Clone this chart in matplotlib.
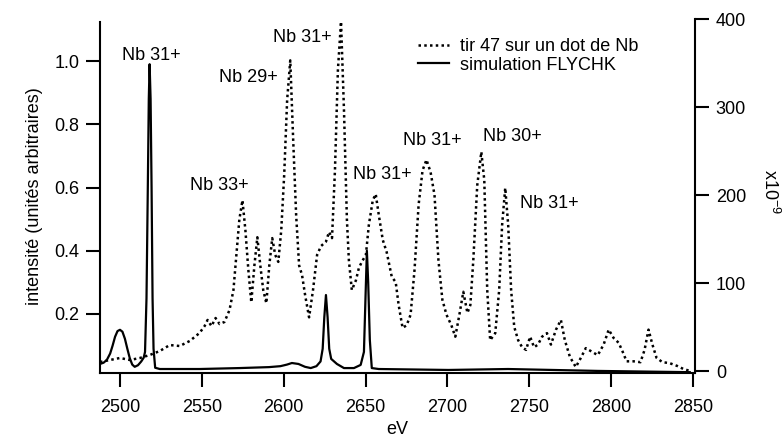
import matplotlib
matplotlib.use("Agg")
import matplotlib.pyplot as plt
from matplotlib.lines import Line2D

plt.rcParams['font.family'] = ['Liberation Sans', 'DejaVu Sans']
plt.rcParams['mathtext.default'] = 'regular'

# Experimental spectrum (right axis, x10^-9)
exp_ev = [2487.8, 2493.9, 2500.0, 2506.1, 2512.2, 2518.2, 2524.3, 2530.4, 2536.5, 2542.6,
          2548.6, 2551.7, 2553.5, 2555.9, 2558.4, 2560.8, 2563.8, 2566.9, 2569.3, 2571.1,
          2572.9, 2574.8, 2576.6, 2578.4, 2580.2, 2582.1, 2583.9, 2585.7, 2587.5, 2589.4,
          2591.2, 2593.0, 2594.8, 2596.7, 2598.5, 2600.3, 2602.1, 2604.0, 2605.8, 2607.6,
          2609.4, 2611.2, 2613.1, 2615.5, 2617.9, 2620.4, 2622.8, 2625.8, 2627.7, 2629.5,
          2631.3, 2633.1, 2635.0, 2636.8, 2638.6, 2639.8, 2641.6, 2644.1, 2645.9, 2647.7,
          2650.2, 2652.0, 2654.4, 2656.2, 2658.1, 2660.5, 2662.9, 2666.0, 2668.4, 2670.2,
          2672.6, 2675.1, 2677.5, 2679.9, 2682.4, 2684.8, 2687.2, 2689.7, 2692.1, 2694.5,
          2696.9, 2699.4, 2702.4, 2704.8, 2707.3, 2709.7, 2712.2, 2714.0, 2715.8, 2718.2,
          2720.7, 2722.5, 2724.3, 2726.1, 2729.2, 2731.6, 2733.4, 2735.3, 2737.1, 2738.9,
          2740.8, 2743.2, 2745.6, 2748.0, 2750.5, 2752.9, 2755.3, 2757.8, 2760.8, 2763.2,
          2766.3, 2769.3, 2771.7, 2774.8, 2778.4, 2781.5, 2784.5, 2788.1, 2791.8, 2795.4,
          2798.5, 2801.5, 2804.6, 2807.0, 2809.4, 2813.7, 2817.9, 2820.4, 2822.8, 2825.2,
          2827.7, 2831.3, 2835.6, 2840.4, 2844.1, 2848.3]
exp_val = [10.2, 12.5, 14.8, 12.5, 14.8, 18.2, 22.7, 29.5, 28.4, 34.1,
           43.2, 51.1, 58.0, 51.0, 60.2, 53.4, 55.7, 69.3, 92.0, 132.0,
           172.0, 194.0, 160.0, 115.0, 78.0, 120.0, 152.0, 120.0, 92.0, 77.0,
           120.0, 151.0, 132.0, 124.0, 160.0, 223.0, 308.0, 353.0, 262.0, 177.0,
           120.0, 109.0, 86.0, 61.0, 92.0, 132.0, 142.0, 147.0, 158.0, 151.0,
           228.0, 342.0, 397.0, 297.0, 172.0, 126.0, 92.0, 103.0, 117.0, 124.0,
           132.0, 166.0, 194.0, 201.0, 177.0, 149.0, 135.0, 107.0, 101.0, 75.0,
           49.0, 52.0, 64.0, 115.0, 189.0, 228.0, 240.0, 226.0, 200.0, 126.0,
           81.0, 64.0, 52.0, 39.0, 64.0, 90.0, 66.0, 75.0, 126.0, 211.0,
           249.0, 217.0, 92.0, 35.0, 43.0, 92.0, 166.0, 208.0, 166.0, 92.0,
           50.0, 35.0, 27.0, 24.0, 39.0, 27.0, 30.0, 39.0, 43.0, 30.0,
           47.0, 58.0, 35.0, 16.0, 4.5, 15.0, 26.0, 22.0, 18.0, 30.0,
           47.0, 37.5, 32.0, 22.0, 11.0, 11.0, 10.0, 24.0, 47.0, 30.0,
           15.0, 10.0, 9.0, 5.7, 2.3, 0.0]

# FLYCHK simulation (left axis, arbitrary units)
sim_ev = [2487.8, 2490.0, 2492.0, 2494.0, 2495.5, 2497.0, 2498.5, 2500.0, 2501.5, 2503.0,
          2504.5, 2506.0, 2507.5, 2509.0, 2511.0, 2513.0, 2514.5, 2515.3,
          2516.2, 2517.0, 2517.6, 2518.1, 2518.7, 2519.3, 2519.9, 2520.5, 2521.5, 2524.3,
          2548.6, 2573.0, 2591.0, 2598.0, 2602.0, 2605.0, 2609.0, 2613.0, 2616.5, 2620.0,
          2622.5, 2623.8, 2624.8, 2625.8, 2626.8, 2627.8, 2629.0, 2632.5, 2636.8, 2642.9,
          2647.0, 2649.0, 2650.0, 2650.8, 2651.6, 2652.6, 2653.8, 2658.0, 2700.6, 2737.0,
          2791.8, 2848.0]
sim_val = [0.042, 0.046, 0.055, 0.075, 0.100, 0.128, 0.146, 0.150, 0.144, 0.122,
           0.090, 0.060, 0.040, 0.033, 0.038, 0.050, 0.062, 0.080,
           0.25, 0.60, 0.88, 0.99, 0.88, 0.60, 0.25, 0.09, 0.03, 0.026,
           0.026, 0.029, 0.032, 0.035, 0.040, 0.045, 0.042, 0.033, 0.029, 0.035,
           0.050, 0.090, 0.190, 0.260, 0.190, 0.090, 0.058, 0.042, 0.029, 0.029,
           0.039, 0.080, 0.26, 0.40, 0.30, 0.118, 0.029, 0.026, 0.023, 0.026,
           0.020, 0.016]

peak_labels = ["Nb 31+", "Nb 29+", "Nb 31+", "Nb 33+", "Nb 31+", "Nb 31+", "Nb 30+", "Nb 31+"]
label_pos = [(2501.2, 1.019), (2560.5, 0.949), (2593.5, 1.076), (2542.8, 0.605),
             (2642.3, 0.640), (2672.9, 0.750), (2721.7, 0.760), (2744.3, 0.551)]

left_ticks = [0.2, 0.4, 0.6, 0.8, 1.0]
right_ticks = [0, 100, 200, 300, 400]
x_ticks = [2500, 2550, 2600, 2650, 2700, 2750, 2800, 2850]

W, H = 782, 437
fig = plt.figure(figsize=(W / 100, H / 100), dpi=100)
ax = fig.add_axes([100 / W, 1 - 373 / H, 595 / W, 354 / H])
ax2 = ax.twinx()

FS = 13
lw_axis = 1.5

ax2.plot(exp_ev, exp_val, color='black', lw=1.8, linestyle=(0, (1, 1.3)))
ax.plot(sim_ev, sim_val, color='black', lw=1.6, solid_joinstyle='round')

ax.set_xlim(2487.8, 2851.2)
ax.set_ylim(0.0134, 1.133)
ax2.set_ylim(-2.27, 400)

ax.set_xticks(x_ticks)
ax.set_yticks(left_ticks)
ax.set_yticklabels([f"{v:.1f}" for v in left_ticks])
ax2.set_yticks(right_ticks)

for a in (ax, ax2):
    a.spines['top'].set_visible(False)
    for s in a.spines.values():
        s.set_linewidth(lw_axis)
ax.spines['right'].set_visible(False)
ax2.spines['left'].set_visible(False)
ax2.spines['bottom'].set_visible(False)
ax.spines['left'].set_bounds(0.0134, 1.124)

ax.tick_params(axis='x', direction='out', length=10, width=lw_axis, labelsize=FS, pad=9)
ax.tick_params(axis='y', direction='out', length=10, width=lw_axis, labelsize=FS, pad=5)
ax2.tick_params(axis='y', direction='out', length=10, width=lw_axis, labelsize=FS, pad=5)

ax.set_xlabel("eV", fontsize=FS, labelpad=3)
ax.set_ylabel("intensité (unités arbitraires)", fontsize=FS, labelpad=8)
fig.text(770 / W, 1 - 192 / H, r"x10$^{-9}$", rotation=-90, fontsize=FS,
         ha='center', va='center')

for lab, (xp, yp) in zip(peak_labels, label_pos):
    ax.text(xp, yp, lab, fontsize=FS, ha='left', va='center')

handles = [Line2D([], [], color='black', lw=1.8, linestyle=(0, (1, 1.3))),
           Line2D([], [], color='black', lw=1.6)]
ax.legend(handles, ["tir 47 sur un dot de Nb", "simulation FLYCHK"],
          loc='upper left', bbox_to_anchor=(418 / W, 1 - 38 / H),
          bbox_transform=fig.transFigure, frameon=False, fontsize=FS,
          handlelength=1.7, handletextpad=0.6, labelspacing=0.1,
          borderpad=0, borderaxespad=0)

fig.savefig("out.png", dpi=100)
